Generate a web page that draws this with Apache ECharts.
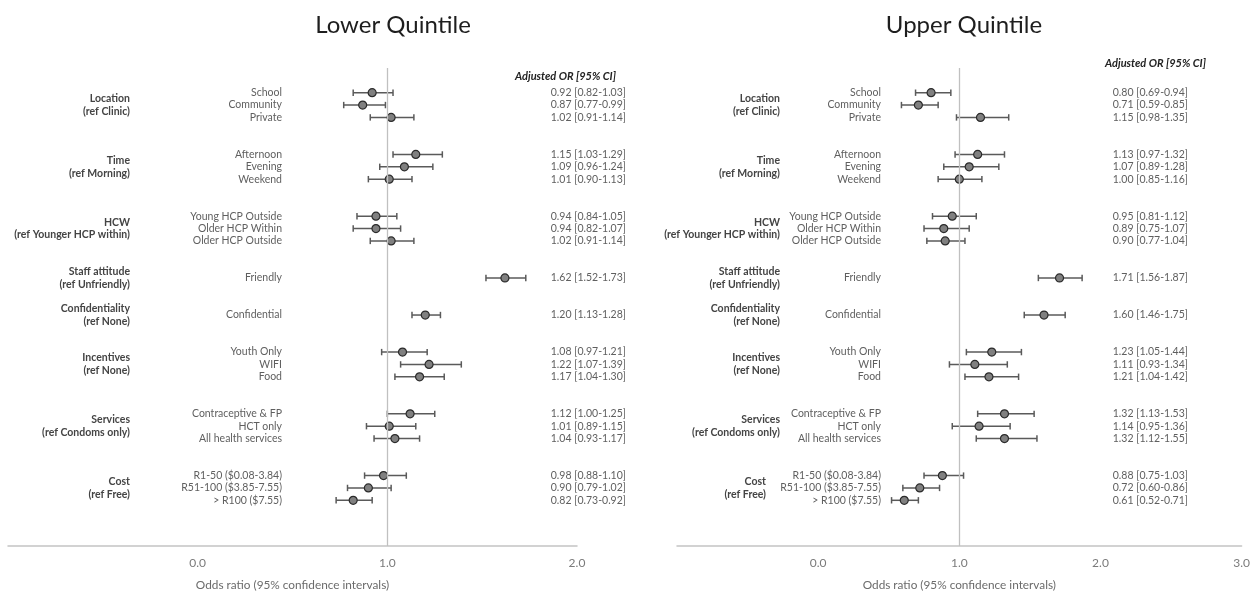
<!DOCTYPE html>
<html>
<head>
<meta charset="utf-8">
<script src="https://cdn.jsdelivr.net/npm/echarts@6/dist/echarts.min.js"></script>
<style>
  html, body { margin: 0; padding: 0; background: #ffffff; }
  #chart { width: 1253px; height: 596px; }
</style>
</head>
<body>
<div id="chart"></div>
<script>
// ---- factor groups and their reference categories ----
const groupNames = ['Location', 'Time', 'HCW', 'Staff attitude', 'Confidentiality', 'Incentives', 'Services', 'Cost'];
const groupRefs = ['(ref Clinic)', '(ref Morning)', '(ref Younger HCP within)', '(ref Unfriendly)', '(ref None)', '(ref None)', '(ref Condoms only)', '(ref Free)'];

// ---- attribute levels (one row each) and the group they belong to ----
const items = ['School', 'Community', 'Private',
  'Afternoon', 'Evening', 'Weekend',
  'Young HCP Outside', 'Older HCP Within', 'Older HCP Outside',
  'Friendly', 'Confidential',
  'Youth Only', 'WIFI', 'Food',
  'Contraceptive & FP', 'HCT only', 'All health services',
  'R1-50 ($0.08-3.84)', 'R51-100 ($3.85-7.55)', '> R100 ($7.55)'];
const itemGroup = [0, 0, 0, 1, 1, 1, 2, 2, 2, 3, 4, 5, 5, 5, 6, 6, 6, 7, 7, 7];

// ---- adjusted odds ratios with 95% CI, lower quintile ----
const lowerOR = [0.92, 0.87, 1.02, 1.15, 1.09, 1.01, 0.94, 0.94, 1.02, 1.62, 1.20, 1.08, 1.22, 1.17, 1.12, 1.01, 1.04, 0.98, 0.90, 0.82];
const lowerLo = [0.82, 0.77, 0.91, 1.03, 0.96, 0.90, 0.84, 0.82, 0.91, 1.52, 1.13, 0.97, 1.07, 1.04, 1.00, 0.89, 0.93, 0.88, 0.79, 0.73];
const lowerHi = [1.03, 0.99, 1.14, 1.29, 1.24, 1.13, 1.05, 1.07, 1.14, 1.73, 1.28, 1.21, 1.39, 1.30, 1.25, 1.15, 1.17, 1.10, 1.02, 0.92];

// ---- adjusted odds ratios with 95% CI, upper quintile ----
const upperOR = [0.80, 0.71, 1.15, 1.13, 1.07, 1.00, 0.95, 0.89, 0.90, 1.71, 1.60, 1.23, 1.11, 1.21, 1.32, 1.14, 1.32, 0.88, 0.72, 0.61];
const upperLo = [0.69, 0.59, 0.98, 0.97, 0.89, 0.85, 0.81, 0.75, 0.77, 1.56, 1.46, 1.05, 0.93, 1.04, 1.13, 0.95, 1.12, 0.75, 0.60, 0.52];
const upperHi = [0.94, 0.85, 1.35, 1.32, 1.28, 1.16, 1.12, 1.07, 1.04, 1.87, 1.75, 1.44, 1.34, 1.42, 1.53, 1.36, 1.55, 1.03, 0.86, 0.71];

// ---- axis ticks ----
const lowerTicks = [0, 1, 2];
const upperTicks = [0, 1, 2, 3];

const FONT = 'Lato, "Open Sans", sans-serif';
const AXIS_NAME = 'Odds ratio (95% confidence intervals)';
const HEADER = 'Adjusted OR [95% CI]';
const LABEL_SIZE = 10.5;

// Each group is separated from the next by two empty rows.
const rows = items.map((_, i) => i + 2 * itemGroup[i]);
const groupRow = groupNames.map((_, g) => {
  const r = rows.filter((_, i) => itemGroup[i] === g);
  return r.reduce((a, b) => a + b, 0) / r.length;
});
const fmt = v => v.toFixed(2);

const panels = [
  { title: 'Lower Quintile', or: lowerOR, lo: lowerLo, hi: lowerHi, ticks: lowerTicks,
    left: 8, width: 569, titleX: 393, headerX: 616, headerY: 76,
    groupX: 130, itemX: 282, ciX: 626, groupNudge: {} },
  { title: 'Upper Quintile', or: upperOR, lo: upperLo, hi: upperHi, ticks: upperTicks,
    left: 677, width: 568, titleX: 964, headerX: 1206, headerY: 63,
    groupX: 780, itemX: 881, ciX: 1188, groupNudge: { 7: -14 } }
];

const GRID_TOP = 68, GRID_H = 487;
const grids = [], xAxes = [], yAxes = [], series = [], graphics = [];

panels.forEach((p, k) => {
  grids.push({ left: p.left, width: p.width, top: GRID_TOP, height: GRID_H, containLabel: false });
  xAxes.push({
    gridIndex: k, type: 'value', min: -1, max: p.ticks[p.ticks.length - 1], interval: 1,
    axisLine: { show: true, onZero: false, lineStyle: { color: '#c4c4c4', width: 1.5 } },
    axisTick: { show: false }, splitLine: { show: false },
    axisLabel: {
      formatter: v => (p.ticks.indexOf(v) >= 0 ? v.toFixed(1) : ''),
      color: '#7a7a7a', fontSize: 12, fontFamily: FONT, margin: 11
    },
    name: AXIS_NAME, nameLocation: 'middle', nameGap: 33,
    nameTextStyle: { color: '#6b6b6b', fontSize: 11.8, fontFamily: FONT }
  });
  yAxes.push({ gridIndex: k, type: 'value', inverse: true, min: -2, max: 36.7, show: false });

  // Row texts: level names on the left, OR [CI] on the right; also carries the reference line at OR = 1
  series.push({
    type: 'custom', xAxisIndex: k, yAxisIndex: k, z: 1, silent: true,
    data: items.map((_, i) => [0, rows[i], i]),
    encode: { x: 0, y: 1 },
    renderItem: (params, api) => {
      const i = api.value(2);
      const y = api.coord([0, api.value(1)])[1];
      const ci = fmt(p.or[i]) + ' [' + fmt(p.lo[i]) + '-' + fmt(p.hi[i]) + ']';
      const st = { align: 'right', verticalAlign: 'middle', fontFamily: FONT, fontSize: LABEL_SIZE, fill: '#5f5f5f' };
      return { type: 'group', children: [
        { type: 'text', x: p.itemX, y: y, style: Object.assign({ text: items[i] }, st) },
        { type: 'text', x: p.ciX, y: y, style: Object.assign({ text: ci }, st) }
      ] };
    },
    markLine: {
      silent: true, symbol: ['none', 'none'], label: { show: false },
      lineStyle: { color: '#c0c0c0', width: 1.3, type: 'solid' },
      data: [{ xAxis: 1 }]
    }
  });

  // Group headings, two lines centred on the group's middle row
  series.push({
    type: 'custom', xAxisIndex: k, yAxisIndex: k, z: 1, silent: true,
    data: groupNames.map((_, g) => [0, groupRow[g], g]),
    encode: { x: 0, y: 1 },
    renderItem: (params, api) => {
      const g = api.value(2);
      const y = api.coord([0, api.value(1)])[1];
      const x = p.groupX + (p.groupNudge[g] || 0);
      const st = { align: 'right', verticalAlign: 'middle', fontFamily: FONT, fontSize: LABEL_SIZE, fontWeight: 'bold', fill: '#444444' };
      return { type: 'group', children: [
        { type: 'text', x: x, y: y - 6.4, style: Object.assign({ text: groupNames[g] }, st) },
        { type: 'text', x: x, y: y + 6.4, style: Object.assign({ text: groupRefs[g] }, st) }
      ] };
    }
  });

  // Confidence interval whiskers
  series.push({
    type: 'custom', xAxisIndex: k, yAxisIndex: k, z: 2, silent: true,
    data: items.map((_, i) => [p.lo[i], p.hi[i], rows[i]]),
    encode: { x: [0, 1], y: 2 },
    renderItem: (params, api) => {
      const a = api.coord([api.value(0), api.value(2)]);
      const b = api.coord([api.value(1), api.value(2)]);
      const ls = { stroke: '#5a5a5a', lineWidth: 1.5 };
      return { type: 'group', children: [
        { type: 'line', shape: { x1: a[0], y1: a[1], x2: b[0], y2: b[1] }, style: ls },
        { type: 'line', shape: { x1: a[0], y1: a[1] - 3.2, x2: a[0], y2: a[1] + 3.2 }, style: ls },
        { type: 'line', shape: { x1: b[0], y1: b[1] - 3.2, x2: b[0], y2: b[1] + 3.2 }, style: ls }
      ] };
    }
  });

  // Point estimates
  series.push({
    type: 'scatter', xAxisIndex: k, yAxisIndex: k, z: 3, silent: true,
    symbol: 'circle', symbolSize: 8,
    itemStyle: { color: '#808080', borderColor: '#2b2b2b', borderWidth: 1.2, opacity: 1 },
    data: items.map((_, i) => [p.or[i], rows[i]])
  });

  graphics.push({
    type: 'text', x: p.titleX, y: 25,
    style: { text: p.title, align: 'center', verticalAlign: 'middle', fontFamily: FONT, fontSize: 24, fill: '#1e1e1e' }
  });
  graphics.push({
    type: 'text', x: p.headerX, y: p.headerY,
    style: { text: HEADER, align: 'right', verticalAlign: 'middle', fontFamily: FONT, fontSize: 11, fontWeight: 'bold', fontStyle: 'italic', fill: '#222222' }
  });
});

const chart = echarts.init(document.getElementById('chart'), null, { renderer: 'canvas' });
chart.setOption({
  backgroundColor: '#ffffff',
  animation: false,
  grid: grids,
  xAxis: xAxes,
  yAxis: yAxes,
  series: series,
  graphic: graphics
});
</script>
</body>
</html>
